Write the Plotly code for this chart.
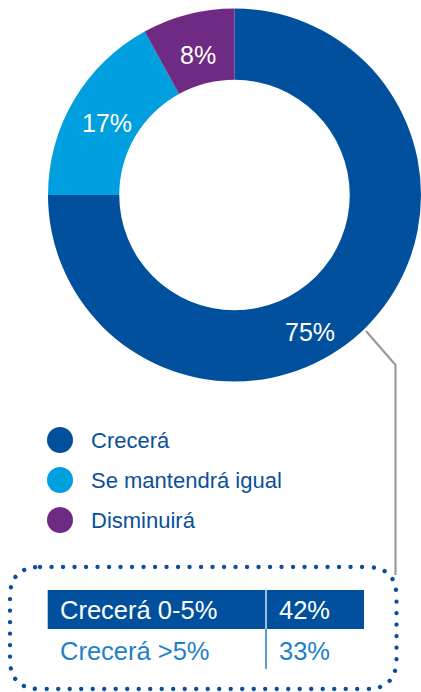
import math
import plotly.graph_objects as go

# ---------------- data ----------------
categories = ["Crecerá", "Se mantendrá igual", "Disminuirá"]
shares = [75, 17, 8]
breakdown_labels = ["Crecerá 0-5%", "Crecerá >5%"]
breakdown_values = [42, 33]

# ---------------- style ----------------
W, H = 421, 692
slice_colors = ["#00509E", "#009FDF", "#6F2A84"]
DARK_BLUE = "#0B4F9C"
MID_BLUE = "#1E7FCB"
FONT = "Liberation Sans, Arial, sans-serif"

CX, CY, R = 234.5, 195.0, 186.5
HOLE = 0.618
SMALL_LABEL_R = 148
BIG_LABEL_R = 154
BIG_LABEL_ANGLE = 150.5   # label of the big slice sits near the connector
LABEL_DY = 3              # baseline compensation for visual centring

fig = go.Figure()

fig.add_trace(go.Pie(
    labels=categories, values=shares, sort=False,
    direction="clockwise", rotation=0, hole=HOLE,
    marker=dict(colors=slice_colors, line=dict(width=0)),
    textinfo="none", hoverinfo="label+percent", showlegend=False,
    domain=dict(x=[(CX - R) / W, (CX + R) / W],
                y=[1 - (CY + R) / H, 1 - (CY - R) / H]),
))

# slice labels
total = sum(shares)
cum = 0
for i, v in enumerate(shares):
    mid = (cum + v / 2) / total * 360
    cum += v
    big = v == max(shares)
    ang = BIG_LABEL_ANGLE if big else mid
    rr = BIG_LABEL_R if big else SMALL_LABEL_R
    a = math.radians(ang)
    fig.add_annotation(
        x=CX + rr * math.sin(a), y=CY - rr * math.cos(a) + LABEL_DY,
        xref="x", yref="y", text=f"{v}%", showarrow=False,
        font=dict(family=FONT, size=25, color="white"),
        xanchor="center", yanchor="middle",
    )

# legend
LEG_X, LEG_Y0, LEG_DY = 60, 440, 40
fig.add_trace(go.Scatter(
    x=[LEG_X] * len(categories),
    y=[LEG_Y0 + LEG_DY * i for i in range(len(categories))],
    mode="markers",
    marker=dict(size=26, color=slice_colors, line=dict(width=0)),
    hoverinfo="skip", showlegend=False,
))
for i, c in enumerate(categories):
    fig.add_annotation(
        x=LEG_X + 29, y=LEG_Y0 + LEG_DY * i, xref="x", yref="y",
        text=c, showarrow=False, xanchor="left", yanchor="middle",
        font=dict(family=FONT, size=22, color=DARK_BLUE),
    )

# connector line
fig.add_shape(type="path", xref="x", yref="y",
              path="M 366,331 L 395.5,365 L 395.5,575",
              line=dict(color="#9A9A9A", width=2.2))

# dotted rounded box
x0, x1, y0, y1, r = 10, 396.5, 567, 689, 30
box = (f"M {x0+r},{y0} L {x1-r},{y0} Q {x1},{y0} {x1},{y0+r} "
       f"L {x1},{y1-r} Q {x1},{y1} {x1-r},{y1} L {x0+r},{y1} "
       f"Q {x0},{y1} {x0},{y1-r} L {x0},{y0+r} Q {x0},{y0} {x0+r},{y0} Z")
fig.add_shape(type="path", xref="x", yref="y", path=box,
              line=dict(color=DARK_BLUE, width=4.3, dash="0.1px,11.4px"))

# breakdown table
TX0, TX1, TSEP = 47.7, 364, 266
ROW_TOP, ROW_H = 590, 39
fig.add_shape(type="rect", xref="x", yref="y", x0=TX0, x1=TX1,
              y0=ROW_TOP, y1=ROW_TOP + ROW_H,
              fillcolor="#00509E", line=dict(width=0), layer="below")
fig.add_shape(type="line", xref="x", yref="y", x0=TSEP, x1=TSEP,
              y0=ROW_TOP - 2, y1=ROW_TOP + ROW_H,
              line=dict(color="#D8E3F0", width=1.5))
fig.add_shape(type="line", xref="x", yref="y", x0=TSEP, x1=TSEP,
              y0=ROW_TOP + ROW_H, y1=669,
              line=dict(color=MID_BLUE, width=1.5))
row_y = [610, 651]
row_col = ["white", MID_BLUE]
for lab, val, yy, col in zip(breakdown_labels, breakdown_values, row_y, row_col):
    fig.add_annotation(x=58, y=yy, xref="x", yref="y", text=lab,
                       showarrow=False, xanchor="left", yanchor="middle",
                       font=dict(family=FONT, size=25.5, color=col))
    fig.add_annotation(x=276.5, y=yy, xref="x", yref="y", text=f"{val}%",
                       showarrow=False, xanchor="left", yanchor="middle",
                       font=dict(family=FONT, size=25.5, color=col))

fig.update_layout(
    width=W, height=H, margin=dict(l=0, r=0, t=0, b=0),
    paper_bgcolor="white", plot_bgcolor="white",
    xaxis=dict(range=[0, W], visible=False, fixedrange=True),
    yaxis=dict(range=[H, 0], visible=False, fixedrange=True),
    showlegend=False,
)

post = """
document.body.style.margin = '0';
document.body.style.overflow = 'hidden';
document.documentElement.style.overflow = 'hidden';
function roundDots(){
  document.querySelectorAll('.shapelayer path').forEach(function(p){
    var d = p.style.strokeDasharray || p.getAttribute('stroke-dasharray');
    if (d && d.indexOf('0.1') === 0) { p.style.strokeLinecap = 'round'; }
  });
}
roundDots();
setTimeout(roundDots, 0);
"""
fig.write_html("out.html", config={"displayModeBar": False}, post_script=post)
